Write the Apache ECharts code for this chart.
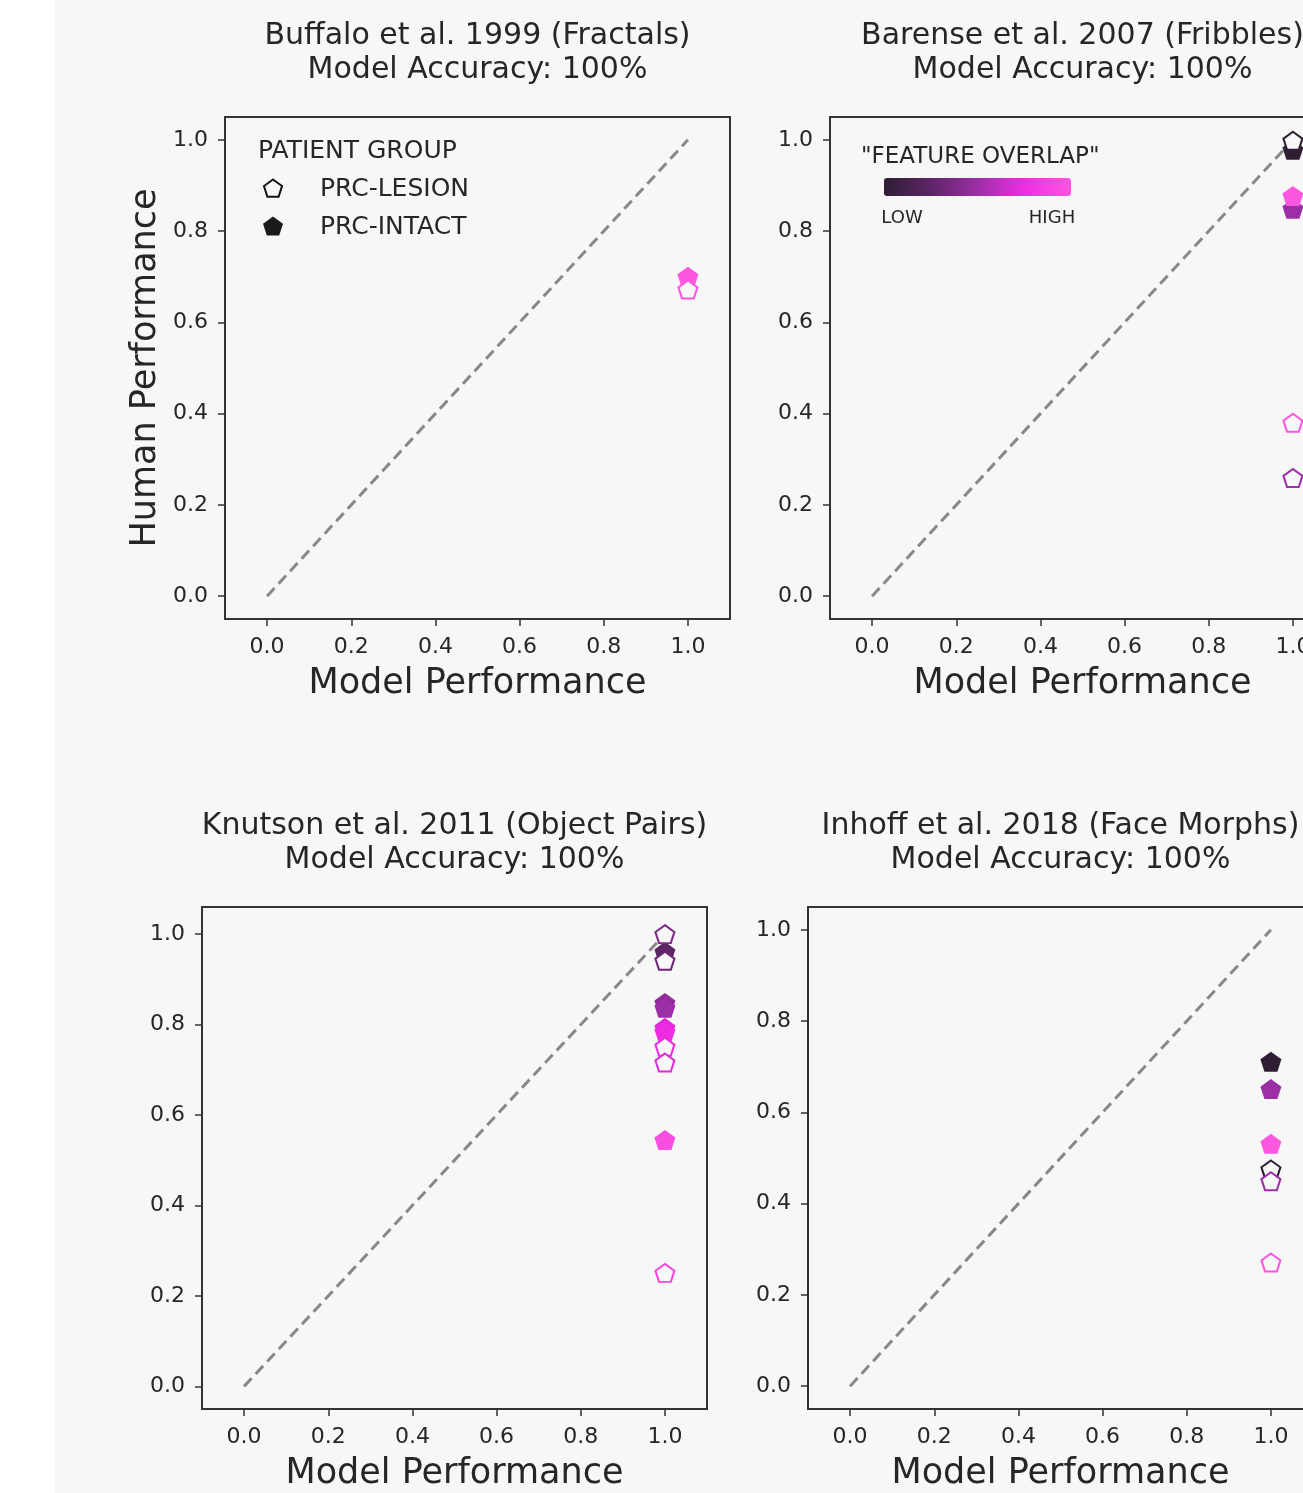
<!DOCTYPE html>
<html><head><meta charset="utf-8">
<script src="https://cdn.jsdelivr.net/npm/echarts@6/dist/echarts.min.js"></script>
<style>
html,body{margin:0;padding:0;overflow:hidden;}
body{background:linear-gradient(to right,#ffffff 0,#ffffff 55px,#f7f7f7 55px,#f7f7f7 100%);width:1303px;height:1493px;}
#c{width:1345px;height:1493px;}
</style></head><body><div id="c"></div>
<script>
// ---------- data ----------
const panelTitles = ['Buffalo et al. 1999 (Fractals)', 'Barense et al. 2007 (Fribbles)', 'Knutson et al. 2011 (Object Pairs)', 'Inhoff et al. 2018 (Face Morphs)'];
const modelAccuracy = ['100%', '100%', '100%', '100%'];
const tickValues = [0, 0.2, 0.4, 0.6, 0.8, 1.0];
const diagonal = [0, 1];
const legendLabels = ['PRC-LESION', 'PRC-INTACT'];
const colorbarLabels = ['LOW', 'HIGH'];

// Buffalo et al. 1999
const buffaloIntactX = [1.0];
const buffaloIntactY = [0.700];
const buffaloIntactOverlap = [1.0];
const buffaloLesionX = [1.0];
const buffaloLesionY = [0.672];
const buffaloLesionOverlap = [1.0];

// Barense et al. 2007
const barenseIntactX = [1.0, 1.0, 1.0];
const barenseIntactY = [0.978, 0.849, 0.877];
const barenseIntactOverlap = [0.0, 0.5, 1.0];
const barenseLesionX = [1.0, 1.0, 1.0];
const barenseLesionY = [0.998, 0.259, 0.380];
const barenseLesionOverlap = [0.0, 0.5, 1.0];

// Knutson et al. 2011
const knutsonIntactX = [1.0, 1.0, 1.0, 1.0, 1.0, 1.0];
const knutsonIntactY = [0.961, 0.848, 0.837, 0.793, 0.784, 0.545];
const knutsonIntactOverlap = [0.25, 0.45, 0.5, 0.7, 0.75, 0.95];
const knutsonLesionX = [1.0, 1.0, 1.0, 1.0, 1.0];
const knutsonLesionY = [1.0, 0.941, 0.751, 0.716, 0.251];
const knutsonLesionOverlap = [0.38, 0.3, 0.75, 0.7, 0.9];

// Inhoff et al. 2018
const inhoffIntactX = [1.0, 1.0, 1.0];
const inhoffIntactY = [0.711, 0.651, 0.531];
const inhoffIntactOverlap = [0.0, 0.5, 1.0];
const inhoffLesionX = [1.0, 1.0, 1.0];
const inhoffLesionY = [0.475, 0.449, 0.271];
const inhoffLesionOverlap = [0.0, 0.5, 1.0];

// ---------- style ----------
const FONT = 'DejaVu Sans';
const TXT = '#262626';
const BG = '#f7f7f7';
const cmapStops = [[0, '#2e1e34'], [0.25, '#5c2566'], [0.5, '#9c2fa6'], [0.75, '#ee2de2'], [1, '#fc57e0']];
function hex2rgb(h){return [parseInt(h.substr(1,2),16),parseInt(h.substr(3,2),16),parseInt(h.substr(5,2),16)];}
function cmap(t){
  for (let i=0;i<cmapStops.length-1;i++){
    const a=cmapStops[i], b=cmapStops[i+1];
    if (t<=b[0]){
      const f=(t-a[0])/(b[0]-a[0]); const ca=hex2rgb(a[1]), cb=hex2rgb(b[1]);
      return 'rgb('+ca.map((v,k)=>Math.round(v+(cb[k]-v)*f)).join(',')+')';
    }
  }
  return cmapStops[cmapStops.length-1][1];
}
const PENT = 'path://M0,-1L0.951,-0.309L0.588,0.809L-0.588,0.809L-0.951,-0.309Z';

const panels = [
  {intact:[buffaloIntactX,buffaloIntactY,buffaloIntactOverlap], lesion:[buffaloLesionX,buffaloLesionY,buffaloLesionOverlap]},
  {intact:[barenseIntactX,barenseIntactY,barenseIntactOverlap], lesion:[barenseLesionX,barenseLesionY,barenseLesionOverlap]},
  {intact:[knutsonIntactX,knutsonIntactY,knutsonIntactOverlap], lesion:[knutsonLesionX,knutsonLesionY,knutsonLesionOverlap]},
  {intact:[inhoffIntactX,inhoffIntactY,inhoffIntactOverlap], lesion:[inhoffLesionX,inhoffLesionY,inhoffLesionOverlap]}
];
const gridPos = [[225,117],[830,117],[202,907],[808,907]];
const yMax = [1.05, 1.05, 1.06, 1.05];
const GW = 505, GH = 502;

const grids = [], xAxes = [], yAxes = [], series = [], graphics = [];
panels.forEach((p, i) => {
  const [gl, gt] = gridPos[i];
  grids.push({left: gl, top: gt, width: GW, height: GH, show: true, borderColor: '#333333', borderWidth: 2, backgroundColor: 'transparent', containLabel: false});
  const tickLbl = {show: true, customValues: tickValues, formatter: v => v.toFixed(1), fontFamily: FONT, fontSize: 22, color: TXT};
  xAxes.push({gridIndex: i, type: 'value', min: -0.1, max: 1.1,
    axisLine: {show: false, onZero: false}, splitLine: {show: false},
    axisTick: {show: true, customValues: tickValues, length: 7, lineStyle: {color: '#333333', width: 1.5}},
    axisLabel: Object.assign({}, tickLbl, {margin: 17}),
    name: 'Model Performance', nameLocation: 'middle', nameGap: 47,
    nameTextStyle: {fontFamily: FONT, fontSize: 35, color: TXT}});
  yAxes.push({gridIndex: i, type: 'value', min: -0.05, max: yMax[i],
    axisLine: {show: false, onZero: false}, splitLine: {show: false},
    axisTick: {show: true, customValues: tickValues, length: 7, lineStyle: {color: '#333333', width: 1.5}},
    axisLabel: Object.assign({}, tickLbl, {margin: 17}),
    name: i === 0 ? 'Human Performance' : '', nameLocation: 'middle', nameGap: 62,
    nameTextStyle: {fontFamily: FONT, fontSize: 35, color: TXT}});
  series.push({type: 'line', xAxisIndex: i, yAxisIndex: i, data: diagonal.map(v => [v, v]), symbol: 'none', silent: true,
    lineStyle: {color: '#888888', width: 3, type: [11, 6]}, z: 1});
  const [ix, iy, io] = p.intact;
  series.push({type: 'scatter', name: legendLabels[1], xAxisIndex: i, yAxisIndex: i, symbol: PENT, symbolSize: [21, 20], z: 3,
    itemStyle: {opacity: 1},
    data: ix.map((x, k) => ({value: [x, iy[k]], itemStyle: {color: cmap(io[k]), opacity: 1}}))});
  const [lx, ly, lo] = p.lesion;
  series.push({type: 'scatter', name: legendLabels[0], xAxisIndex: i, yAxisIndex: i, symbol: PENT, symbolSize: [19, 18], z: 4,
    itemStyle: {opacity: 1},
    data: lx.map((x, k) => ({value: [x, ly[k]], itemStyle: {color: BG, borderColor: cmap(lo[k]), borderWidth: 2, opacity: 1}}))});
  // titles
  const cx = gl + GW / 2;
  graphics.push({type: 'text', x: cx, y: gt - 81, style: {text: panelTitles[i], fontFamily: FONT, fontSize: 30, fill: TXT, align: 'center', verticalAlign: 'middle'}});
  graphics.push({type: 'text', x: cx, y: gt - 47, style: {text: 'Model Accuracy: ' + modelAccuracy[i], fontFamily: FONT, fontSize: 30, fill: TXT, align: 'center', verticalAlign: 'middle'}});
});

// legend (patient group) in panel 1
function pentPoints(cx, cy, r){
  const pts=[]; for(let k=0;k<5;k++){const a=-Math.PI/2+k*2*Math.PI/5; pts.push([cx+r*Math.cos(a), cy+r*Math.sin(a)]);} return pts;
}
graphics.push({type: 'text', x: 258, y: 151, style: {text: 'PATIENT GROUP', fontFamily: FONT, fontSize: 25, fill: TXT, align: 'left', verticalAlign: 'middle'}});
graphics.push({type: 'polygon', shape: {points: pentPoints(273, 189, 9.5)}, style: {fill: 'none', stroke: '#111111', lineWidth: 2}});
graphics.push({type: 'text', x: 320, y: 189, style: {text: legendLabels[0], fontFamily: FONT, fontSize: 25, fill: TXT, align: 'left', verticalAlign: 'middle'}});
graphics.push({type: 'polygon', shape: {points: pentPoints(273, 227, 10.5)}, style: {fill: '#1a1a1a'}});
graphics.push({type: 'text', x: 320, y: 227, style: {text: legendLabels[1], fontFamily: FONT, fontSize: 25, fill: TXT, align: 'left', verticalAlign: 'middle'}});

// colorbar legend in panel 2
graphics.push({type: 'text', x: 861, y: 157, style: {text: '"FEATURE OVERLAP"', fontFamily: FONT, fontSize: 23, fill: TXT, align: 'left', verticalAlign: 'middle'}});
graphics.push({type: 'rect', shape: {x: 884, y: 178, width: 187, height: 18, r: 3},
  style: {fill: {type: 'linear', x: 0, y: 0, x2: 1, y2: 0, colorStops: cmapStops.map(s => ({offset: s[0], color: s[1]}))}}});
graphics.push({type: 'text', x: 902, y: 218, style: {text: colorbarLabels[0], fontFamily: FONT, fontSize: 18, fill: TXT, align: 'center', verticalAlign: 'middle'}});
graphics.push({type: 'text', x: 1052, y: 218, style: {text: colorbarLabels[1], fontFamily: FONT, fontSize: 18, fill: TXT, align: 'center', verticalAlign: 'middle'}});

const chart = echarts.init(document.getElementById('c'), null, {renderer: 'canvas'});
chart.setOption({
  backgroundColor: 'transparent',
  animation: false,
  textStyle: {fontFamily: FONT},
  grid: grids, xAxis: xAxes, yAxis: yAxes, series: series,
  graphic: {elements: graphics}
});
</script></body></html>
